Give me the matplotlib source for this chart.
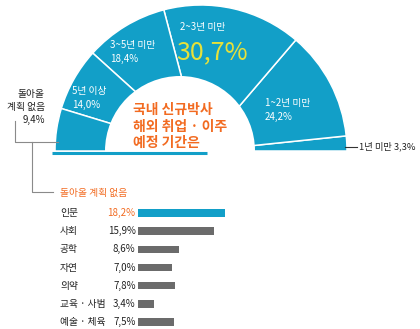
import numpy as np
import matplotlib
matplotlib.use("Agg")
import matplotlib.pyplot as plt
from matplotlib.patches import Wedge, Circle
from matplotlib.transforms import blended_transform_factory

plt.rcParams['font.family'] = ['Noto Sans CJK KR', 'DejaVu Sans']

# half donut, counted from the right side going up and round to the left
periods = ["1년 미만", "1~2년 미만", "2~3년 미만", "3~5년 미만", "5년 이상", "돌아올 계획 없음"]
shares = [3.3, 24.2, 30.7, 18.4, 14.0, 9.4]

# bars
fields = ["인문", "사회", "공학", "자연", "의약", "교육 · 사범", "예술 · 체육"]
no_return = [18.2, 15.9, 8.6, 7.0, 7.8, 3.4, 7.5]

BLUE = "#129fc8"
ORANGE = "#f26b21"
YELLOW = "#e6e13a"
GRAY = "#6b6b6b"
LINE = "#8a8a8a"


def pct(v):
    return ("%.1f%%" % v).replace(".", ",")


fig = plt.figure(figsize=(4.2, 3.29), dpi=100)
ax = fig.add_axes([0, 0, 1, 1])
ax.set_xlim(0, 420)
ax.set_ylim(329, 0)
ax.axis("off")

# donut
cx, cy, r_out = 201, 151, 146
angles = np.concatenate([[0], np.cumsum(shares)]) / sum(shares) * 180
for a, b in zip(angles[:-1], angles[1:]):
    ax.add_patch(Wedge((cx, cy), r_out, -b, -a, facecolor=BLUE,
                       edgecolor="white", linewidth=1.1))
ax.add_patch(Circle((180, cy), 75, facecolor="white", edgecolor="none", zorder=3))
ax.plot([52, 207], [152.5, 152.5], color=BLUE, lw=2.2, solid_capstyle="butt", zorder=4)

# slice labels
ax.text(203, 27, periods[2], color="white", fontsize=7, ha="center", va="center")
ax.text(212, 52, pct(shares[2]), color=YELLOW, fontsize=18, ha="center", va="center")
ax.text(110, 52, periods[3] + "\n" + pct(shares[3]), color="white", fontsize=7,
        ha="left", va="center", linespacing=1.45)
ax.text(72, 98, periods[4] + "\n" + pct(shares[4]), color="white", fontsize=7,
        ha="left", va="center", linespacing=1.45)
ax.text(265, 110, periods[1] + "\n" + pct(shares[1]), color="white", fontsize=7,
        ha="left", va="center", linespacing=1.45)
ax.plot([345, 357], [146.5, 146.5], color="#333333", lw=0.8)
ax.text(359, 146.5, periods[0] + " " + pct(shares[0]), color="#222222", fontsize=6.7,
        ha="left", va="center")
ax.text(45, 107, "돌아올\n계획 없음\n" + pct(shares[5]), color="#222222", fontsize=7,
        ha="right", va="center", linespacing=1.35)

ax.text(133, 126.5, "국내 신규박사\n해외 취업 · 이주\n예정 기간은", color=ORANGE,
        fontsize=10, fontweight="bold", ha="left", va="center", linespacing=1.2, zorder=5)

# leader lines
ax.plot([15, 15, 58], [121, 142, 142], color=LINE, lw=0.8, zorder=5)
ax.plot([32, 32, 53], [142, 192, 192], color=LINE, lw=0.8)
ax.text(60, 192.5, "돌아올 계획 없음", color=ORANGE, fontsize=7, ha="left", va="center")

# bars
bx = fig.add_axes([138 / 420, -2 / 329, 91 / 420, 127 / 329])
ypos = np.arange(len(fields))
colors = [BLUE] + [GRAY] * (len(fields) - 1)
bx.barh(ypos, no_return, height=0.42, color=colors)
bx.set_xlim(0, 19)
bx.set_ylim(len(fields) - 0.5, -0.5)
bx.axis("off")

tr = blended_transform_factory(ax.transData, bx.transData)
for i, (name, v) in enumerate(zip(fields, no_return)):
    c = ORANGE if i == 0 else "#222222"
    ax.text(60, i, name, transform=tr, fontsize=7, color="#222222", ha="left", va="center")
    ax.text(135.5, i, pct(v), transform=tr, fontsize=7, color=c, ha="right", va="center")

fig.savefig("out.png", dpi=100)
